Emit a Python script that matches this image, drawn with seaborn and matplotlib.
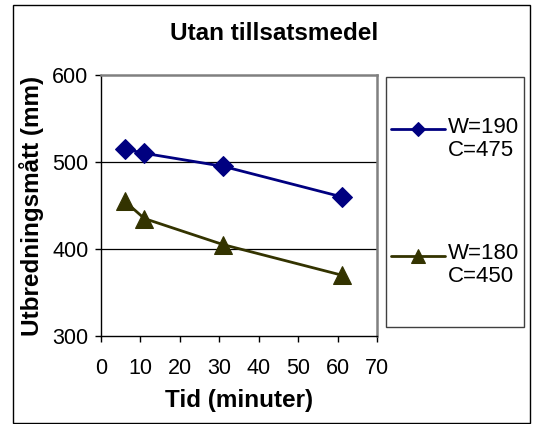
import matplotlib
matplotlib.use("Agg")
import matplotlib.pyplot as plt
import seaborn as sns
import pandas as pd
from matplotlib.patches import Rectangle
from matplotlib.legend_handler import HandlerLine2D
from matplotlib.transforms import Affine2D

# Spread measurements over time for two mixes without admixture
tid = [6, 11, 31, 61]
mix_a = [515, 510, 495, 460]
mix_b = [455, 435, 405, 370]
labels = ["W=190\nC=475", "W=180\nC=450"]
colors = ["#000080", "#333300"]
markers = ["D", "^"]

title = "Utan tillsatsmedel"
xlabel = "Tid (minuter)"
ylabel = "Utbredningsmått (mm)"
xticks = [0, 10, 20, 30, 40, 50, 60, 70]
yticks = [300, 400, 500, 600]

sns.set_theme(style="white")
plt.rcParams["font.family"] = ["Liberation Sans", "DejaVu Sans"]
plt.rcParams["text.color"] = "black"
plt.rcParams["axes.labelcolor"] = "black"

fig = plt.figure(figsize=(5.34, 4.24), dpi=100)
ax = fig.add_axes([101 / 534, 1 - 336 / 424, 276 / 534, 261 / 424])

df = pd.DataFrame({"tid": tid * 2,
                   "varde": mix_a + mix_b,
                   "serie": [labels[0]] * 4 + [labels[1]] * 4})

for lab, col, mk, ms in zip(labels, colors, markers, [10, 12.5]):
    sub = df[df["serie"] == lab]
    sns.lineplot(data=sub, x="tid", y="varde", ax=ax, color=col,
                 marker=mk, markersize=ms, markeredgecolor=col,
                 markerfacecolor=col, linewidth=2, label=lab, legend=False)

ax.set_xlim(0, 70)
ax.set_ylim(300, 600)
ax.set_xticks(xticks)
ax.set_yticks(yticks)
ax.tick_params(axis="both", direction="out", length=4, width=1, color="black",
               labelsize=15.5, labelcolor="black", left=True, bottom=True)
ax.tick_params(axis="x", pad=12)
ax.tick_params(axis="y", pad=5)

for y in [400, 500]:
    ax.axhline(y, color="black", linewidth=0.9, zorder=0)

for side in ["left", "bottom"]:
    ax.spines[side].set_color("black")
    ax.spines[side].set_linewidth(1.0)
for side in ["top", "right"]:
    ax.spines[side].set_color("#808080")
    ax.spines[side].set_linewidth(1.8)

ax.set_xlabel(xlabel, fontsize=17.5, fontweight="bold", labelpad=7)
ax.set_ylabel(ylabel, fontsize=17.5, fontweight="bold")
ax.yaxis.set_label_coords(-0.205, 0.5)
fig.text(274 / 534, 1 - 34 / 424, title, fontsize=17.5, fontweight="bold",
         ha="center", va="center", color="black")


class FirstLineHandler(HandlerLine2D):
    """Places the legend sample beside the first line of a two-line label."""

    def __init__(self, shift, **kw):
        super().__init__(**kw)
        self.shift = shift

    def create_artists(self, legend, orig_handle, xdescent, ydescent,
                       width, height, fontsize, trans):
        trans = Affine2D().translate(0, self.shift) + trans
        return super().create_artists(legend, orig_handle, xdescent, ydescent,
                                      width, height, fontsize, trans)


handles = [h for h in ax.get_lines() if h.get_label() in labels]
leg = fig.legend(handles, [h.get_label() for h in handles],
                 loc="upper left", bbox_to_anchor=(391 / 534, 1 - 117 / 424),
                 frameon=False, fontsize=16, handlelength=2.45,
                 handletextpad=0.1, labelspacing=3.72, markerscale=0.75,
                 borderpad=0, borderaxespad=0,
                 handler_map={h: FirstLineHandler(7.0) for h in handles})
for t in leg.get_texts():
    t.set_linespacing(1.1)
    t.set_color("black")

# legend box and outer chart border
fig.add_artist(Rectangle((386 / 534, 1 - 327 / 424), 138 / 534, 250 / 424,
                         transform=fig.transFigure, fill=False,
                         edgecolor="#404040", linewidth=1.0))
fig.add_artist(Rectangle((12.5 / 534, 1 - 422.5 / 424), 517 / 534, 417.5 / 424,
                         transform=fig.transFigure, fill=False,
                         edgecolor="black", linewidth=1.0))

fig.savefig("out.png", dpi=100)
